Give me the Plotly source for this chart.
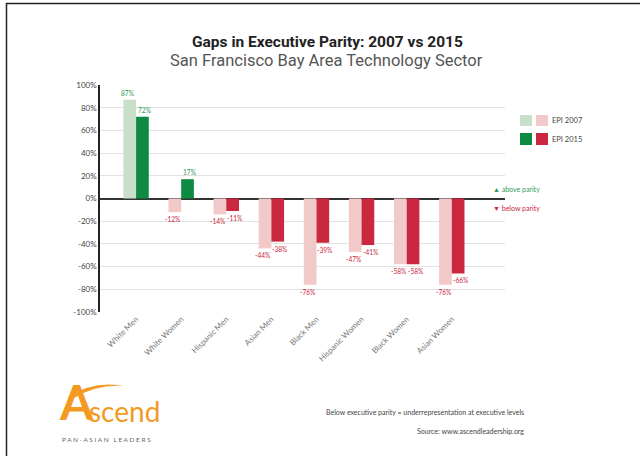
import plotly.graph_objects as go

categories = ["White Men", "White Women", "Hispanic Men", "Asian Men",
              "Black Men", "Hispanic Women", "Black Women", "Asian Women"]
epi_2007 = [87, -12, -14, -44, -76, -47, -58, -76]
epi_2015 = [72, 17, -11, -38, -39, -41, -58, -66]
y_ticks = [100, 80, 60, 40, 20, 0, -20, -40, -60, -80, -100]

W, H = 640, 456
L, R, T, B = 100, 135, 85, 144
PW, PH = W - L - R, H - T - B

def px(x):
    return (x - L) / PW

def py(y):
    return (H - B - y) / PH

GREEN_L, PINK_L = "#c9dfc9", "#f1c9c9"
GREEN_D, RED_D = "#0f8a43", "#c9283e"
GREEN_T, RED_T = "#2e9a55", "#c9283e"
ORANGE = "#f39a22"

def colors(vals, pos, neg):
    return [pos if v >= 0 else neg for v in vals]

fig = go.Figure()
fig.add_trace(go.Bar(
    x=categories, y=epi_2007, name="EPI 2007",
    marker=dict(color=colors(epi_2007, GREEN_L, PINK_L), line=dict(width=0)),
))
fig.add_trace(go.Bar(
    x=categories, y=epi_2015, name="EPI 2015",
    marker=dict(color=colors(epi_2015, GREEN_D, RED_D), line=dict(width=0)),
))

fig.update_layout(
    width=W, height=H,
    margin=dict(l=L, r=R, t=T, b=B, autoexpand=False),
    paper_bgcolor="white", plot_bgcolor="white",
    barmode="group", bargap=0.437, bargroupgap=0,
    showlegend=False,
    font=dict(family="Lato", color="#555"),
    xaxis=dict(
        range=[-0.8, 8.18], tickangle=-45, showgrid=False, showline=False,
        zeroline=False, ticks="", tickfont=dict(size=8, color="#777"),
    ),
    yaxis=dict(
        range=[-100, 100], tickvals=y_ticks, ticktext=[f"{v}%" for v in y_ticks],
        showgrid=True, gridcolor="#e2e2e2", gridwidth=1,
        zeroline=True, zerolinecolor="#333", zerolinewidth=1.5,
        showline=True, linecolor="#222", linewidth=1.5, ticks="",
        tickfont=dict(size=8, color="#444"),
    ),
)

ann = []
# bar value labels (data coordinates)
for vals, shift in ((epi_2007, -8.5), (epi_2015, 8.5)):
    for c, v in zip(categories, vals):
        ann.append(dict(x=c, y=v, xref="x", yref="y", showarrow=False,
                        text=f"{v}%", xshift=shift, yshift=1 if v >= 0 else -1,
                        yanchor="bottom" if v >= 0 else "top",
                        font=dict(size=6.6, color=GREEN_T if v >= 0 else RED_T)))

ann.append(dict(x=px(327), y=py(42), xref="paper", yref="paper", showarrow=False,
                text="<b>Gaps in Executive Parity: 2007 vs 2015</b>",
                font=dict(family="Roboto", size=15.5, color="#222"),
                xanchor="center", yanchor="middle"))
ann.append(dict(x=px(326), y=py(60), xref="paper", yref="paper", showarrow=False,
                text="San Francisco Bay Area Technology Sector",
                font=dict(family="Roboto", size=16.5, color="#555"),
                xanchor="center", yanchor="middle"))
# legend
ann.append(dict(x=px(550), y=py(120.5), xref="paper", yref="paper", showarrow=False,
                text="EPI 2007", font=dict(size=7.5, color="#444"),
                xanchor="left", yanchor="middle"))
ann.append(dict(x=px(550), y=py(139), xref="paper", yref="paper", showarrow=False,
                text="EPI 2015", font=dict(size=7.5, color="#444"),
                xanchor="left", yanchor="middle"))
ann.append(dict(x=px(491), y=py(189), xref="paper", yref="paper", showarrow=False,
                text="▲ above parity", font=dict(size=7, color=GREEN_T),
                xanchor="left", yanchor="middle"))
ann.append(dict(x=px(491), y=py(208), xref="paper", yref="paper", showarrow=False,
                text="▼ below parity", font=dict(size=7, color=RED_T),
                xanchor="left", yanchor="middle"))
# notes
ann.append(dict(x=px(526), y=py(412), xref="paper", yref="paper", showarrow=False,
                text="Below executive parity = underrepresentation at executive levels",
                font=dict(size=7, color="#444"), xanchor="right", yanchor="middle"))
ann.append(dict(x=px(526), y=py(431), xref="paper", yref="paper", showarrow=False,
                text="Source: www.ascendleadership.org",
                font=dict(size=7, color="#444"), xanchor="right", yanchor="middle"))
# logo
ann.append(dict(x=px(57), y=py(432), xref="paper", yref="paper", showarrow=False,
                text="<b>A</b>", font=dict(family="Lato", size=48, color=ORANGE),
                xanchor="left", yanchor="bottom"))
ann.append(dict(x=px(87), y=py(430), xref="paper", yref="paper", showarrow=False,
                text="scend", font=dict(family="Lato", size=28, color=ORANGE),
                xanchor="left", yanchor="bottom"))
ann.append(dict(x=px(60), y=py(439), xref="paper", yref="paper", showarrow=False,
                text="P A N - A S I A N   L E A D E R S",
                font=dict(family="Lato", size=6.5, color="#666"),
                xanchor="left", yanchor="middle"))
fig.update_layout(annotations=ann)

shapes = []
def rect(x0, y0, x1, y1, c):
    return dict(type="rect", xref="paper", yref="paper",
                x0=px(x0), x1=px(x1), y0=py(y1), y1=py(y0),
                fillcolor=c, line=dict(width=0))
shapes.append(rect(520, 115, 532, 126, GREEN_L))
shapes.append(rect(536, 115, 548, 126, PINK_L))
shapes.append(rect(520, 133, 532, 145, GREEN_D))
shapes.append(rect(536, 133, 548, 145, RED_D))
# frame
shapes.append(dict(type="line", xref="paper", yref="paper", x0=px(6), x1=px(640),
                   y0=py(3.5), y1=py(3.5), line=dict(color="#222", width=1.5)))
shapes.append(dict(type="line", xref="paper", yref="paper", x0=px(6.5), x1=px(6.5),
                   y0=py(3), y1=py(456), line=dict(color="#222", width=1.5)))
# swoosh
p = lambda x, y: f"{px(x):.4f},{py(y):.4f}"
swoosh = (f"M {p(68, 397)} Q {p(94, 380)} {p(124, 386)} "
          f"Q {p(96, 384)} {p(72, 399)} Z")
shapes.append(dict(type="path", xref="paper", yref="paper", path=swoosh,
                   fillcolor=ORANGE, line=dict(width=0)))
fig.update_layout(shapes=shapes)

fig.write_html("out.html")
